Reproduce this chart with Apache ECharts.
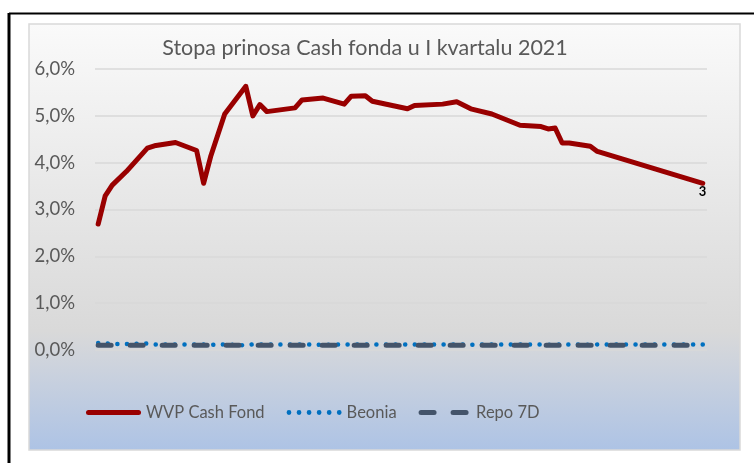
<!DOCTYPE html>
<html>
<head>
<meta charset="utf-8">
<script src="https://cdn.jsdelivr.net/npm/echarts@6/dist/echarts.min.js"></script>
<style>
html,body{margin:0;padding:0;background:#fff;}
#chart{width:754px;height:463px;}
</style>
</head>
<body>
<div id="chart"></div>
<script>
const titleText = 'Stopa prinosa Cash fonda u I kvartalu 2021';
const seriesNames = ['WVP Cash Fond', 'Beonia', 'Repo 7D'];
const dates = ['2021-01-04','2021-01-05','2021-01-06','2021-01-08','2021-01-11','2021-01-12','2021-01-15','2021-01-18','2021-01-19','2021-01-20','2021-01-22','2021-01-25','2021-01-26','2021-01-27','2021-01-28','2021-02-01','2021-02-02','2021-02-05','2021-02-08','2021-02-09','2021-02-11','2021-02-12','2021-02-17','2021-02-18','2021-02-22','2021-02-24','2021-02-26','2021-03-01','2021-03-05','2021-03-08','2021-03-09','2021-03-10','2021-03-11','2021-03-12','2021-03-15','2021-03-16','2021-03-31'];
const wvp = [2.69,3.29,3.52,3.81,4.31,4.36,4.43,4.26,3.56,4.13,5.04,5.63,5.00,5.24,5.09,5.17,5.34,5.38,5.25,5.42,5.43,5.31,5.15,5.22,5.25,5.30,5.15,5.04,4.80,4.77,4.72,4.74,4.42,4.42,4.35,4.24,3.56];
const beonia = [0.15,0.14,0.13,0.13,0.14,0.12,0.12,0.12,0.12,0.11,0.12,0.10,0.12,0.12,0.12,0.12,0.12,0.11,0.12,0.12,0.12,0.12,0.12,0.12,0.12,0.12,0.11,0.12,0.12,0.12,0.11,0.11,0.12,0.12,0.11,0.12,0.12];
const repo = [0.10,0.10,0.10,0.10,0.10,0.10,0.10,0.10,0.10,0.10,0.10,0.10,0.10,0.10,0.10,0.10,0.10,0.10,0.10,0.10,0.10,0.10,0.10,0.10,0.10,0.10,0.10,0.10,0.10,0.10,0.10,0.10,0.10,0.10,0.10,0.10,0.10];
const yTicks = {min: 0, max: 6, interval: 1};
const endLabelText = '3';

const pair = arr => dates.map((d, i) => [d, arr[i]]);
const font = 'Lato, "Open Sans", sans-serif';
const DAY = 86400000;

// legend icons (decorative)
const dotsPath = 'path://' + [0,1,2,3,4,5].map(i => {
  const cx = 2.25 + i * 9.5;
  return 'M' + (cx - 2.25) + ',2.5 a2.25,2.25 0 1,0 4.5,0 a2.25,2.25 0 1,0 -4.5,0 Z';
}).join(' ');
const dashPath = 'path://M2.5,0 H15.5 A2.5,2.5 0 0,1 15.5,5 H2.5 A2.5,2.5 0 0,1 2.5,0 Z M34.5,0 H47.5 A2.5,2.5 0 0,1 47.5,5 H34.5 A2.5,2.5 0 0,1 34.5,0 Z';
const solidPath = 'path://M2.5,0 H52.5 A2.5,2.5 0 0,1 52.5,5 H2.5 A2.5,2.5 0 0,1 2.5,0 Z';

const chart = echarts.init(document.getElementById('chart'));
chart.setOption({
  animation: false,
  backgroundColor: '#ffffff',
  graphic: [
    {type: 'rect', z: -10, shape: {x: 29, y: 24, width: 711, height: 426},
     style: {fill: new echarts.graphic.LinearGradient(0, 0, 0, 1, [
       {offset: 0, color: '#fafafa'},
       {offset: 0.72, color: '#d9d9d9'},
       {offset: 0.8, color: '#cdd3dd'},
       {offset: 1, color: '#adc3e5'}
     ]), stroke: '#d9d9d9', lineWidth: 1.5}},
    {type: 'line', z: 10, shape: {x1: 9, y1: 13.5, x2: 754, y2: 13.5}, style: {stroke: '#000', lineWidth: 2}},
    {type: 'line', z: 10, shape: {x1: 9, y1: 13, x2: 9, y2: 463}, style: {stroke: '#000', lineWidth: 3}}
  ],
  title: {
    text: titleText, left: 360, top: 32, textAlign: 'center',
    textStyle: {fontFamily: font, fontSize: 21.5, fontWeight: 'normal', color: '#595959'}
  },
  legend: {
    left: 81, top: 399, itemWidth: 55, itemHeight: 5, itemGap: 22,
    textStyle: {fontFamily: font, fontSize: 16.5, color: '#595959'},
    data: [
      {name: seriesNames[0], icon: solidPath},
      {name: seriesNames[1], icon: dotsPath},
      {name: seriesNames[2], icon: dashPath}
    ]
  },
  grid: {left: 95, right: 47, top: 69, bottom: 113},
  xAxis: {
    type: 'time',
    min: v => v.min - 0.45 * DAY,
    max: v => v.max + 0.6 * DAY,
    axisLine: {show: false}, axisTick: {show: false}, axisLabel: {show: false}, splitLine: {show: false}
  },
  yAxis: {
    type: 'value', min: yTicks.min, max: yTicks.max, interval: yTicks.interval,
    axisLine: {show: false}, axisTick: {show: false},
    axisLabel: {margin: 20, fontFamily: font, fontSize: 18.5, color: '#595959',
      formatter: v => v.toFixed(1).replace('.', ',') + '%'},
    splitLine: {lineStyle: {color: '#d9d9d9', width: 1.5}}
  },
  series: [
    {name: seriesNames[0], type: 'line', data: pair(wvp), symbol: 'none', z: 5,
     lineStyle: {color: '#990000', width: 5, cap: 'round', join: 'round'}, itemStyle: {color: '#990000'},
     endLabel: {show: true, formatter: () => endLabelText, distance: 0, offset: [-4, 9],
       color: '#000', fontWeight: 'bold', fontSize: 13, fontFamily: font}},
    {name: seriesNames[1], type: 'line', data: pair(beonia), symbol: 'none', z: 3,
     lineStyle: {color: '#0070c0', width: 4.5, type: [0.1, 9.5], cap: 'round'}, itemStyle: {color: '#0070c0'}},
    {name: seriesNames[2], type: 'line', data: pair(repo), symbol: 'none', z: 4,
     lineStyle: {color: '#44546a', width: 5, type: [13, 19], cap: 'round'}, itemStyle: {color: '#44546a'}}
  ]
});
</script>
</body>
</html>
